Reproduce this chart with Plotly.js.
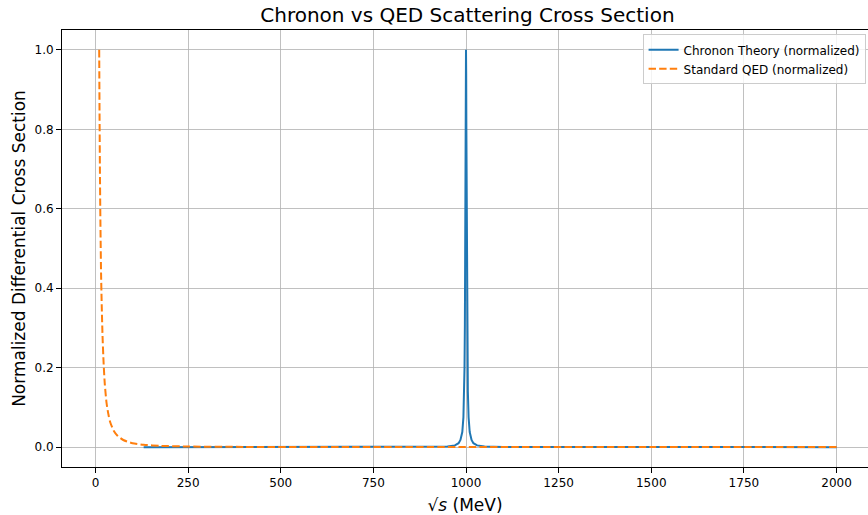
<!DOCTYPE html>
<html>
<head>
<meta charset="utf-8">
<script src="https://cdn.plot.ly/plotly-3.0.1.min.js"></script>
<style>html,body{margin:0;padding:0;background:#fff;}#chart{width:868px;height:515px;}</style>
</head>
<body>
<div id="chart"></div>
<script>
// Chronon theory (normalized)
const chrononX = [130, 300, 500, 700, 900, 950, 970, 980, 985, 990, 993, 995, 996, 997, 998, 999, 999.5, 1000, 1000.5, 1001, 1002, 1003, 1004, 1005, 1007, 1010, 1015, 1020, 1030, 1050, 1100, 1300, 1500, 1750, 2000];
const chrononY = [0.00001, 0.00001, 0.00002, 0.00004, 0.0004, 0.0016, 0.0044, 0.01, 0.018, 0.038, 0.075, 0.14, 0.2, 0.31, 0.5, 0.8, 0.94, 1.0, 0.94, 0.8, 0.5, 0.31, 0.2, 0.14, 0.075, 0.038, 0.018, 0.01, 0.0044, 0.0016, 0.0004, 0.0001, 0.00004, 0.00002, 0.00001];

// Standard QED (normalized)
const qedX = [10, 11, 12, 13, 14, 15, 17, 19, 22, 25, 30, 35, 40, 50, 60, 75, 100, 130, 175, 250, 400, 600, 1000, 1500, 2000];
const qedY = [1.0, 0.83, 0.69, 0.59, 0.51, 0.44, 0.35, 0.28, 0.21, 0.16, 0.11, 0.082, 0.062, 0.04, 0.028, 0.018, 0.01, 0.006, 0.0033, 0.0016, 0.0006, 0.0003, 0.0001, 0.00004, 0.00003];

const seriesNames = ["Chronon Theory (normalized)", "Standard QED (normalized)"];
const xTicks = [0, 250, 500, 750, 1000, 1250, 1500, 1750, 2000];
const yTicks = [0.0, 0.2, 0.4, 0.6, 0.8, 1.0];

const traces = [
  {x: chrononX, y: chrononY, name: seriesNames[0], type: "scatter", mode: "lines",
   line: {color: "#1f77b4", width: 2}},
  {x: qedX, y: qedY, name: seriesNames[1], type: "scatter", mode: "lines",
   line: {color: "#ff7f0e", width: 2, dash: "7.4px,3.2px", shape: "spline", smoothing: 0.6}}
];

const font = "DejaVu Sans, sans-serif";
const layout = {
  width: 868, height: 515,
  margin: {l: 62, r: 0, t: 30, b: 48},
  paper_bgcolor: "#fff", plot_bgcolor: "#fff",
  font: {family: font, color: "#000", size: 12},
  title: {text: "Chronon vs QED Scattering Cross Section", font: {family: font, size: 20, color: "#000"},
          x: 0.503, xref: "paper", xanchor: "center", y: 0.97, yanchor: "middle", yref: "container"},
  xaxis: {
    range: [-90.4, 2085], tickvals: xTicks, ticktext: xTicks.map(String),
    showgrid: true, gridcolor: "#b0b0b0", gridwidth: 0.8,
    zeroline: false, showline: true, linecolor: "#000", linewidth: 1, mirror: true,
    ticks: "outside", ticklen: 5, tickcolor: "#000", tickfont: {size: 12, family: font},
    title: {text: "√<i>s</i> (MeV)", font: {size: 17, family: font}, standoff: 9}
  },
  yaxis: {
    range: [-0.05, 1.05], tickvals: yTicks, ticktext: yTicks.map(v => v.toFixed(1)),
    showgrid: true, gridcolor: "#b0b0b0", gridwidth: 0.8,
    zeroline: false, showline: true, linecolor: "#000", linewidth: 1,
    ticks: "outside", ticklen: 5, tickcolor: "#000", tickfont: {size: 12, family: font},
    title: {text: "Normalized Differential Cross Section", font: {size: 17, family: font}, standoff: 4}
  },
  legend: {x: 0.997, xanchor: "right", y: 0.99, yanchor: "top",
           bgcolor: "rgba(255,255,255,0.8)", bordercolor: "#cccccc", borderwidth: 1,
           font: {size: 12, family: font}, tracegroupgap: 0},
  showlegend: true
};

Plotly.newPlot("chart", traces, layout, {staticPlot: true, displayModeBar: false});
</script>
</body>
</html>
